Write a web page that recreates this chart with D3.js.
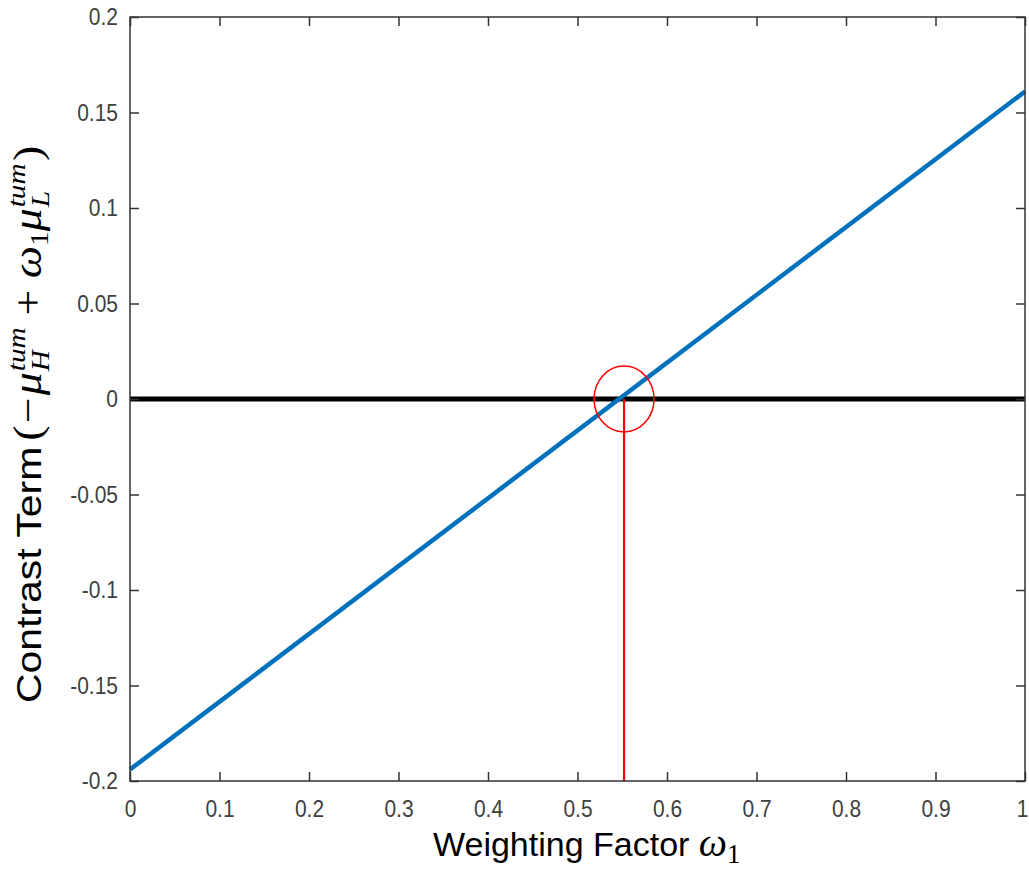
<!DOCTYPE html>
<html><head><meta charset="utf-8">
<script src="https://cdn.jsdelivr.net/npm/d3@7"></script>
<style>body{margin:0;background:#fff}svg{display:block}</style>
</head><body>
<script>
// ---- data ----
const xTicks = [0, 0.1, 0.2, 0.3, 0.4, 0.5, 0.6, 0.7, 0.8, 0.9, 1];
const xTickLabels = ["0","0.1","0.2","0.3","0.4","0.5","0.6","0.7","0.8","0.9","1"];
const yTicks = [-0.2, -0.15, -0.1, -0.05, 0, 0.05, 0.1, 0.15, 0.2];
const yTickLabels = ["-0.2","-0.15","-0.1","-0.05","0","0.05","0.1","0.15","0.2"];
const weights = [0, 1];
const contrast = [-0.194, 0.161];
const zeroLine = [[0, 0], [1, 0]];
const crossing = [0.552, 0];

const W = 1029, H = 875;
const m = {left: 130, right: 1025, top: 17, bottom: 781};
const svg = d3.select("body").append("svg").attr("width", W).attr("height", H);
const x = d3.scaleLinear().domain([0, 1]).range([m.left, m.right]);
const y = d3.scaleLinear().domain([-0.2, 0.2]).range([m.bottom, m.top]);

const sans = "'Liberation Sans', Arial, sans-serif";
const serif = "'Liberation Serif', 'DejaVu Serif', serif";
const axisColor = "#333";
const vStretch = 1.12;

// data lines
const line = d3.line().x(d => x(d[0])).y(d => y(d[1]));
svg.append("path").datum(zeroLine).attr("d", line)
  .attr("stroke", "#000").attr("stroke-width", 5).attr("fill", "none");
svg.append("path").datum(weights.map((w, i) => [w, contrast[i]])).attr("d", line)
  .attr("stroke", "#0072BD").attr("stroke-width", 4.5).attr("fill", "none");
svg.append("line")
  .attr("x1", x(crossing[0])).attr("x2", x(crossing[0]))
  .attr("y1", y(crossing[1])).attr("y2", y(-0.2))
  .attr("stroke", "#ff0000").attr("stroke-width", 2.2);
svg.append("ellipse")
  .attr("cx", x(crossing[0])).attr("cy", y(crossing[1]))
  .attr("rx", 30).attr("ry", 33)
  .attr("fill", "none").attr("stroke", "#ff0000").attr("stroke-width", 1.5);

// axes
const tickLen = 9;
svg.append("rect").attr("x", m.left).attr("y", m.top)
  .attr("width", m.right - m.left).attr("height", m.bottom - m.top)
  .attr("fill", "none").attr("stroke", axisColor).attr("stroke-width", 1.5);

const xB = d3.axisBottom(x).tickValues(xTicks).tickSizeInner(-tickLen).tickSizeOuter(0)
  .tickPadding(17).tickFormat((d, i) => xTickLabels[i]);
const xT = d3.axisTop(x).tickValues(xTicks).tickSizeInner(-tickLen).tickSizeOuter(0).tickFormat("");
const yL = d3.axisLeft(y).tickValues(yTicks).tickSizeInner(-tickLen).tickSizeOuter(0)
  .tickPadding(12).tickFormat((d, i) => yTickLabels[i]);
const yR = d3.axisRight(y).tickValues(yTicks).tickSizeInner(-tickLen).tickSizeOuter(0).tickFormat("");

[[xB, `translate(0,${m.bottom})`], [xT, `translate(0,${m.top})`],
 [yL, `translate(${m.left},0)`], [yR, `translate(${m.right},0)`]].forEach(([ax, tr]) => {
  const a = svg.append("g").attr("transform", tr).call(ax);
  a.select(".domain").remove();
  a.selectAll(".tick line").attr("stroke", axisColor).attr("stroke-width", 1.5);
  a.selectAll(".tick text").attr("fill", "#404040").attr("font-family", sans).attr("font-size", 21)
    .attr("transform", `scale(1,${vStretch})`);
});
// keep last x label inside the canvas
svg.selectAll(".tick text").filter(function(){ return this.textContent === "1"; })
  .attr("dx", -3);

// x title
const xt = svg.append("text").attr("x", 433).attr("y", 856)
  .attr("font-family", sans).attr("font-size", 34).attr("fill", "#000");
xt.append("tspan").text("Weighting Factor ");
xt.append("tspan").attr("font-family", serif).attr("font-style", "italic").attr("font-size", 40).text("ω");
xt.append("tspan").attr("font-family", serif).attr("font-size", 27).attr("dy", 7).text("1");

// y title (rotated), built piece by piece
const yt = svg.append("text").attr("transform", `translate(41,703) rotate(-90) scale(1.17,1)`)
  .attr("font-family", sans).attr("font-size", 35).attr("fill", "#000");
const MS = 39, SS = 25;
function add(txt, opts) {
  const t = yt.append("tspan").text(txt);
  if (opts.serif) t.attr("font-family", serif);
  if (opts.it) t.attr("font-style", "italic");
  if (opts.size) t.attr("font-size", opts.size);
  if (opts.dx != null) t.attr("dx", opts.dx);
  if (opts.dy != null) t.attr("dy", opts.dy);
  return t;
}
add("Contrast Term", {});
add("(", {serif: 1, size: MS, dx: 5});
add("−", {serif: 1, size: MS, dx: 2});
add("μ", {serif: 1, it: 1, size: MS, dx: 2});
let sup = add("tum", {serif: 1, it: 1, size: SS, dy: -16, dx: 1});
let supLen = sup.node().getComputedTextLength();
let sub = add("H", {serif: 1, it: 1, size: SS, dx: -supLen, dy: 24});
let subLen = sub.node().getComputedTextLength();
add("+", {serif: 1, size: MS, dx: (supLen - subLen) + 10, dy: -8});
add("ω", {serif: 1, it: 1, size: MS, dx: 10});
add("1", {serif: 1, size: SS, dy: 7});
add("μ", {serif: 1, it: 1, size: MS, dy: -7});
sup = add("tum", {serif: 1, it: 1, size: SS, dy: -16, dx: 1});
supLen = sup.node().getComputedTextLength();
sub = add("L", {serif: 1, it: 1, size: SS, dx: -supLen, dy: 24});
subLen = sub.node().getComputedTextLength();
add(")", {serif: 1, size: MS, dx: (supLen - subLen) + 2, dy: -8});
</script>
</body></html>
